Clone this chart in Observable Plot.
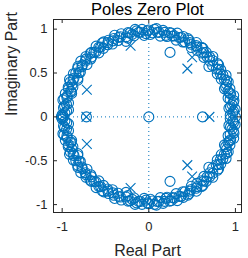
<!DOCTYPE html>
<html><head><meta charset="utf-8">
<script src="https://cdn.jsdelivr.net/npm/d3@7"></script>
<script src="https://cdn.jsdelivr.net/npm/@observablehq/plot@0.6"></script>
<style>body{margin:0;background:#fff;font-family:"Liberation Sans",Arial,sans-serif}</style>
</head><body><div id="chart"></div>
<script>
// Zeros lying on / near the unit circle (upper half; the lower half are their conjugates)
const ringAngleDeg = [2.5,5,7,9.5,12,14,16.5,19,21,23.5,26,28,30.5,33,35,37.5,39.6,41,43,45.5,48,50,52.5,55,57,59.5,62,64,66.5,69,71,73.5,76,78,80.5,83,85,87.5,90,92,94.5,97,99,101.5,104,106,107,108.5,111,113,115.5,118,120,122.5,125,127,129.5,132,134,136.5,139,141,143.5,146,148,150.5,152.9,153,155,157.5,160,162,162.3,164.5,167,169,171.5,174,176,178.5];
const ringRadius   = [0.97,1.00,0.95,0.99,0.96,1.01,0.97,0.99,0.95,1.00,0.97,1.01,0.96,0.99,0.95,1.00,0.90,0.98,1.01,0.96,0.99,0.95,1.00,0.97,1.01,0.96,0.99,0.95,1.00,0.97,1.01,0.96,0.99,0.95,1.00,0.97,1.01,0.96,0.99,0.95,1.00,0.97,1.01,0.96,0.99,0.95,0.90,1.00,0.97,1.01,0.96,0.99,0.95,1.00,0.97,1.01,0.96,0.99,0.95,1.00,0.97,1.01,0.96,0.99,0.95,1.00,0.92,0.97,1.01,0.96,0.99,0.95,0.94,1.00,0.97,1.01,0.96,0.99,0.95,1.00];
// Second, interleaved set of near-unit-circle zeros (upper half)
const ring2AngleDeg = [1.2,3.8,6.1,8.3,10.7,13.2,15.4,17.8,20.1,22.4,24.9,27.2,29.3,31.8,34.1,36.3,38.4,42.1,44.3,46.8,49.1,51.3,53.8,56.1,58.2,60.7,63.1,65.3,67.8,70.2,72.4,74.8,77.1,79.3,81.8,84.2,86.3,88.8,91.1,93.3,95.8,98.2,100.4,102.8,105.1,109.7,112.1,114.3,116.8,119.2,121.3,123.8,126.1,128.3,130.7,133.2,135.4,137.8,140.1,142.3,144.8,147.2,149.3,151.8,154.2,156.3,158.8,161.1,163.3,165.8,168.1,170.3,172.8,175.1,177.3,179.4];
const ring2Radius   = [0.94,0.98,0.93,0.97,1.00,0.94,0.98,0.96,0.93,0.97,0.99,0.94,0.98,0.93,0.97,1.00,0.94,0.95,0.98,0.93,0.97,1.00,0.94,0.98,0.93,0.97,1.00,0.94,0.98,0.93,0.97,0.99,0.94,0.98,0.93,0.97,1.00,0.94,0.98,0.93,0.97,0.99,0.94,0.98,0.93,0.97,0.94,0.98,0.93,0.97,1.00,0.94,0.98,0.93,0.97,0.99,0.94,0.98,0.93,0.97,1.00,0.94,0.98,0.93,0.97,0.99,0.94,0.98,0.93,0.97,1.00,0.94,0.98,0.93,0.97,0.99];
// Other zeros (real part, imaginary part)
const zeroRe = [0, -0.72, 0.62, 0.245, 0.245, 1.0, -1.01];
const zeroIm = [0, 0, 0, 0.735, -0.735, 0, 0];
// Poles
const poleRe = [-0.72, 0.70, -0.715, -0.715, 0.445, 0.445, 0.50, 0.50, -0.21, -0.21];
const poleIm = [0, 0, 0.31, -0.31, 0.55, -0.55, 0.68, -0.68, 0.81, -0.81];
const xTicks = [-1, 0, 1];
const yTicks = [-1, -0.5, 0, 0.5, 1];

const blue = "#0072BD";
const axisCol = "#262626";

const zeros = [];
function addRing(angles, radii) {
  angles.forEach((a, i) => {
    const t = a * Math.PI / 180, r = radii[i];
    zeros.push({re: r * Math.cos(t), im: r * Math.sin(t)});
    zeros.push({re: r * Math.cos(t), im: -r * Math.sin(t)});
  });
}
addRing(ringAngleDeg, ringRadius);
addRing(ring2AngleDeg, ring2Radius);
zeroRe.forEach((v, i) => zeros.push({re: v, im: zeroIm[i]}));
const poles = poleRe.map((v, i) => ({re: v, im: poleIm[i]}));

const W = 248, H = 258, mL = 53, mR = 7, mT = 19, mB = 46;
const fw = W - mL - mR, fh = H - mT - mB;
const fmt = d => String(d);

const chart = Plot.plot({
  width: W, height: H,
  marginLeft: mL, marginRight: mR, marginTop: mT, marginBottom: mB,
  style: {fontFamily: "'Liberation Sans', Arial, sans-serif", fontSize: "13px", color: axisCol, background: "#fff"},
  x: {domain: [-1.1, 1.07], label: null},
  y: {domain: [-1.09, 1.11], label: null},
  marks: [
    Plot.ruleY([0], {stroke: blue, strokeDasharray: "1,3", strokeWidth: 1}),
    Plot.ruleX([0], {stroke: blue, strokeDasharray: "1,3", strokeWidth: 1}),
    Plot.dot(zeros, {x: "re", y: "im", r: 5, stroke: blue, strokeWidth: 1.1, fill: "none"}),
    Plot.dot(poles, {x: "re", y: "im", r: 4.5, symbol: "times", stroke: blue, strokeWidth: 1.1}),
    Plot.frame({stroke: axisCol, strokeWidth: 1}),
    Plot.axisX(xTicks, {anchor: "bottom", tickSize: 0, tickPadding: 9, tickFormat: fmt, fontSize: 13, label: null}),
    Plot.axisY(yTicks, {anchor: "left", tickSize: 0, tickPadding: 6, tickFormat: fmt, fontSize: 13, label: null}),
    Plot.tickX(xTicks, {x: d => d, insetTop: fh - 4, stroke: axisCol}),
    Plot.tickX(xTicks, {x: d => d, insetBottom: fh - 4, stroke: axisCol}),
    Plot.tickY(yTicks, {y: d => d, insetRight: fw - 4, stroke: axisCol}),
    Plot.tickY(yTicks, {y: d => d, insetLeft: fw - 4, stroke: axisCol}),
    Plot.text(["Poles Zero Plot"], {frameAnchor: "top", dy: -10, fontSize: 16.5, fill: "#000", lineAnchor: "middle"}),
    Plot.text(["Real Part"], {frameAnchor: "bottom", dy: 38, fontSize: 16, fill: axisCol, lineAnchor: "middle"}),
    Plot.text(["Imaginary Part"], {frameAnchor: "left", dx: -42, rotate: -90, fontSize: 16, fill: axisCol, lineAnchor: "middle"})
  ]
});
document.getElementById("chart").appendChild(chart);
</script></body></html>
